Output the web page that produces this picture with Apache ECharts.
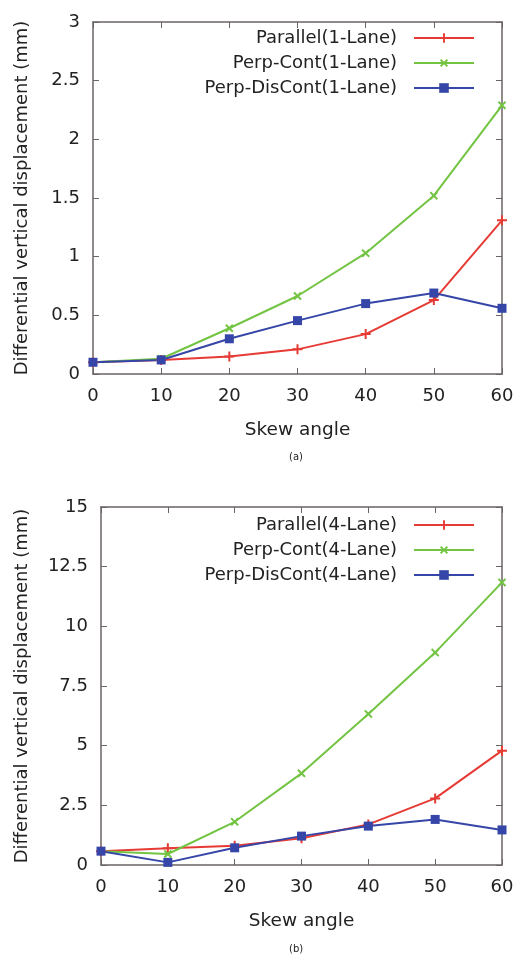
<!DOCTYPE html>
<html>
<head>
<meta charset="utf-8">
<script src="https://cdn.jsdelivr.net/npm/echarts@6/dist/echarts.min.js"></script>
<style>
html, body { margin: 0; padding: 0; background: #fff; }
#main { width: 517px; height: 958px; }
</style>
</head>
<body>
<div id="main"></div>
<script>
// skew angles
var angles = [0, 10, 20, 30, 40, 50, 60];

// (a) 1-lane
var parallel1 = [0.10, 0.12, 0.15, 0.21, 0.34, 0.63, 1.31];
var perpCont1 = [0.10, 0.13, 0.39, 0.665, 1.03, 1.52, 2.29];
var perpDis1 = [0.10, 0.12, 0.30, 0.455, 0.60, 0.69, 0.56];

// (b) 4-lane
var parallel4 = [0.58, 0.70, 0.81, 1.12, 1.70, 2.79, 4.79];
var perpCont4 = [0.58, 0.46, 1.81, 3.84, 6.33, 8.90, 11.84];
var perpDis4 = [0.58, 0.11, 0.72, 1.21, 1.63, 1.91, 1.47];

var names1 = ['Parallel(1-Lane)', 'Perp-Cont(1-Lane)', 'Perp-DisCont(1-Lane)'];
var names4 = ['Parallel(4-Lane)', 'Perp-Cont(4-Lane)', 'Perp-DisCont(4-Lane)'];

var red = '#e63b35', green = '#72c442', blue = '#3546a8';
var frame = '#6b6464';
var font = 'DejaVu Sans';
var plus = 'path://M4,0h2v4h4v2h-4v4h-2v-4h-4v-2h4z';

function pts(arr) {
    return arr.map(function (v, i) { return [angles[i], v]; });
}

function mk(name, data, color, symbol, size, rot, idx) {
    return {
        name: name, type: 'line', data: pts(data),
        xAxisIndex: idx, yAxisIndex: idx,
        symbol: symbol, symbolSize: size, symbolRotate: rot,
        lineStyle: { color: color, width: 2 },
        itemStyle: { color: color },
        z: 3
    };
}

function xAx(idx, top) {
    return {
        type: 'value', gridIndex: idx, min: 0, max: 60, interval: 10,
        position: top ? 'top' : 'bottom',
        name: top ? '' : 'Skew angle', nameLocation: 'middle', nameGap: 47,
        nameTextStyle: { fontFamily: font, fontSize: 18.5, color: '#222' },
        axisLine: { show: true, onZero: false, lineStyle: { color: frame, width: 1.5 } },
        axisTick: { show: true, inside: true, length: 6, lineStyle: { color: frame } },
        axisLabel: { show: !top, fontFamily: font, fontSize: 18, color: '#222', margin: 13 },
        splitLine: { show: false }
    };
}

function yAx(idx, right, max, step, gap) {
    return {
        type: 'value', gridIndex: idx, min: 0, max: max, interval: step,
        position: right ? 'right' : 'left',
        name: right ? '' : 'Differential vertical displacement (mm)',
        nameLocation: 'middle', nameGap: gap,
        nameTextStyle: { fontFamily: font, fontSize: 18, color: '#222' },
        axisLine: { show: true, onZero: false, lineStyle: { color: frame, width: 1.5 } },
        axisTick: { show: true, inside: true, length: 6, lineStyle: { color: frame } },
        axisLabel: { show: !right, fontFamily: font, fontSize: 18, color: '#222', margin: 13 },
        splitLine: { show: false }
    };
}

function lg(names, top) {
    return {
        data: names, orient: 'vertical', align: 'right',
        right: 42, top: top, padding: 0,
        itemWidth: 60, itemHeight: 12, itemGap: 7,
        textStyle: { fontFamily: font, fontSize: 18, color: '#222', padding: [0, 12, 0, 0] }
    };
}

var option = {
    backgroundColor: '#fff',
    animation: false,
    title: [
        { text: '(a)', left: 284, top: 447, textStyle: { fontFamily: font, fontSize: 10, fontWeight: 'normal', color: '#222' } },
        { text: '(b)', left: 284, top: 939, textStyle: { fontFamily: font, fontSize: 10, fontWeight: 'normal', color: '#222' } }
    ],
    grid: [
        { left: 93, right: 15, top: 22, height: 352 },
        { left: 101, right: 15, top: 507, height: 358 }
    ],
    legend: [lg(names1, 29), lg(names4, 516)],
    xAxis: [xAx(0, false), xAx(1, false), xAx(0, true), xAx(1, true)],
    yAxis: [yAx(0, false, 3, 0.5, 62), yAx(1, false, 15, 2.5, 70), yAx(0, true, 3, 0.5, 0), yAx(1, true, 15, 2.5, 0)],
    series: [
        mk(names1[0], parallel1, red, plus, 10, 0, 0),
        mk(names1[1], perpCont1, green, plus, 10, 45, 0),
        mk(names1[2], perpDis1, blue, 'rect', 9, 0, 0),
        mk(names4[0], parallel4, red, plus, 10, 0, 1),
        mk(names4[1], perpCont4, green, plus, 10, 45, 1),
        mk(names4[2], perpDis4, blue, 'rect', 9, 0, 1)
    ]
};

var chart = echarts.init(document.getElementById('main'));
chart.setOption(option);
</script>
</body>
</html>
